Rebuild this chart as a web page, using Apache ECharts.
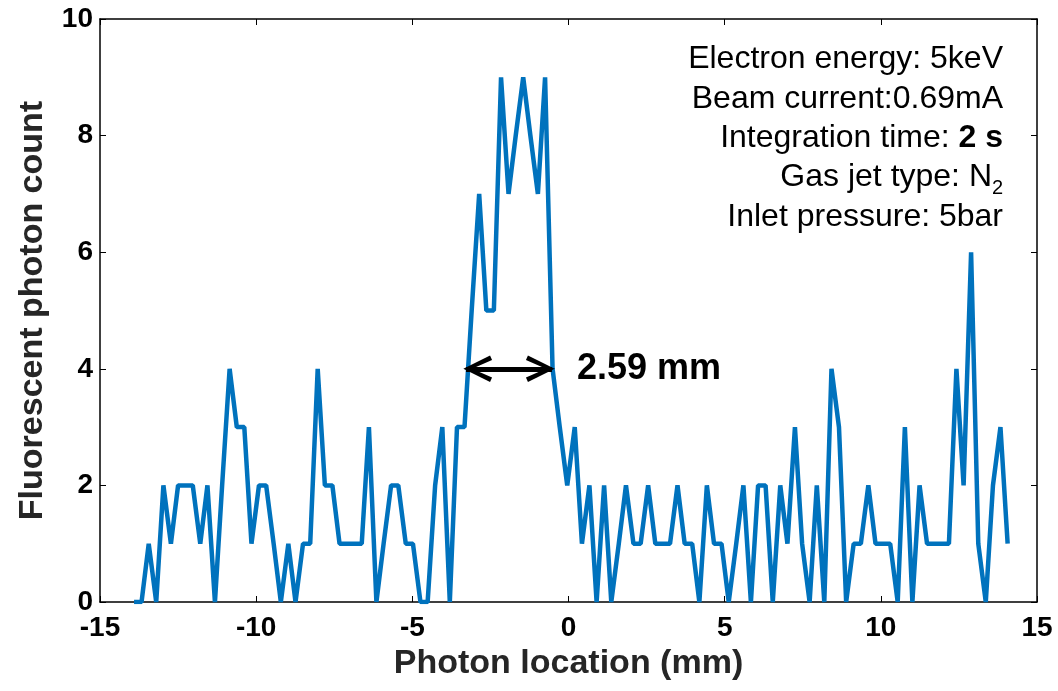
<!DOCTYPE html>
<html>
<head>
    <meta charset="utf-8">
    <title>Fluorescent photon count</title>
    <script src="https://cdn.jsdelivr.net/npm/echarts@6/dist/echarts.min.js"></script>
    <style>
        html, body { margin: 0; padding: 0; background: #fff; }
        #main { width: 1058px; height: 691px; }
    </style>
</head>
<body>
<div id="main"></div>
<script type="text/javascript">

    // photon location (mm), one entry per sample
    var locations = [
        -13.91, -13.67, -13.44, -13.20, -12.97, -12.73, -12.50, -12.26, -12.03, -11.79,
        -11.56, -11.32, -11.09, -10.85, -10.62, -10.38, -10.15, -9.91, -9.68, -9.44,
        -9.21, -8.97, -8.74, -8.50, -8.27, -8.03, -7.80, -7.56, -7.33, -7.09,
        -6.86, -6.62, -6.39, -6.15, -5.92, -5.68, -5.45, -5.21, -4.98, -4.74,
        -4.51, -4.27, -4.04, -3.80, -3.57, -3.33, -3.10, -2.86, -2.63, -2.39,
        -2.16, -1.92, -1.69, -1.45, -1.22, -0.98, -0.75, -0.51, -0.28, -0.04,
        0.20, 0.43, 0.67, 0.90, 1.14, 1.37, 1.61, 1.84, 2.08, 2.31,
        2.55, 2.78, 3.02, 3.25, 3.49, 3.72, 3.96, 4.19, 4.43, 4.66,
        4.90, 5.13, 5.37, 5.60, 5.84, 6.07, 6.31, 6.54, 6.78, 7.01,
        7.25, 7.48, 7.72, 7.95, 8.19, 8.42, 8.66, 8.89, 9.13, 9.36,
        9.60, 9.83, 10.07, 10.30, 10.54, 10.77, 11.01, 11.24, 11.48, 11.71,
        11.95, 12.18, 12.42, 12.65, 12.89, 13.12, 13.36, 13.59, 13.83, 14.06
    ];

    // fluorescent photon count at each location
    var counts = [
        0, 0, 1, 0, 2, 1, 2, 2, 2, 1,
        2, 0, 2, 4, 3, 3, 1, 2, 2, 1,
        0, 1, 0, 1, 1, 4, 2, 2, 1, 1,
        1, 1, 3, 0, 1, 2, 2, 1, 1, 0,
        0, 2, 3, 0, 3, 3, 5, 7, 5, 5,
        9, 7, 8, 9, 8, 7, 9, 4, 3, 2,
        3, 1, 2, 0, 2, 0, 1, 2, 1, 1,
        2, 1, 1, 1, 2, 1, 1, 0, 2, 1,
        1, 0, 1, 2, 0, 2, 2, 0, 2, 1,
        3, 1, 0, 2, 0, 4, 3, 0, 1, 1,
        2, 1, 1, 1, 0, 3, 0, 2, 1, 1,
        1, 1, 4, 2, 6, 1, 0, 2, 3, 1
    ];

    var xTicks = { min: -15, max: 15, interval: 5 };
    var yTicks = { min: 0, max: 10, interval: 2 };

    // FWHM arrow (mm, count) and its label
    var fwhmStart = [-3.28, 4];
    var fwhmEnd = [-0.53, 4];
    var fwhmText = '2.59 mm';

    var infoLines = [
        'Electron energy: 5keV',
        'Beam current:0.69mA',
        'Integration time: {b|2 s}',
        'Gas jet type: N',
        'Inlet pressure: 5bar'
    ];
    var infoTops = [43, 83, 122, 161, 201];

    var font = '"Liberation Sans", Arial, Helvetica, sans-serif';
    var blue = '#0072BD';

    // open chevron pointing up, apex at the centre of the bounding box
    var chevron = 'path://M13.3,23.3 L26.6,50 L22,52 L13.3,32 L4.6,52 L0,50 Z M13.25,0 L13.35,0 L13.3,0.1 Z';

    var seriesData = locations.map(function (x, i) {
        return [x, counts[i]];
    });

    var dom = document.getElementById('main');
    var myChart = echarts.init(dom, null, { renderer: 'canvas' });

    var axisLineStyle = { color: '#000', width: 1.5 };

    // info box, one right-aligned text per line
    var graphics = infoLines.map(function (t, i) {
        return {
            type: 'text',
            right: i === 3 ? 66 : 55,
            top: infoTops[i],
            style: {
                text: t,
                fontSize: 32,
                fill: '#000',
                fontFamily: font,
                rich: {
                    b: { fontSize: 32, fontWeight: 'bold', fill: '#000', fontFamily: font }
                }
            }
        };
    });
    // subscript of N2
    graphics.push({
        type: 'text',
        right: 55,
        top: 178,
        style: { text: '2', fontSize: 20, fill: '#000', fontFamily: font }
    });

    var option = {
        animation: false,
        backgroundColor: '#fff',
        textStyle: { fontFamily: font },
        grid: { left: 100, right: 21, top: 19, bottom: 89 },
        xAxis: [{
            type: 'value',
            min: xTicks.min, max: xTicks.max, interval: xTicks.interval,
            name: 'Photon location (mm)',
            nameLocation: 'middle',
            nameGap: 39,
            nameTextStyle: { fontSize: 34, fontWeight: 'bold', color: '#262626', fontFamily: font },
            axisLine: { show: true, onZero: false, lineStyle: axisLineStyle },
            axisTick: { show: true, inside: true, length: 6, lineStyle: { color: '#000' } },
            axisLabel: { fontSize: 28, fontWeight: 'bold', color: '#000', margin: 12, fontFamily: font },
            splitLine: { show: false }
        }, {
            type: 'value', position: 'top',
            min: xTicks.min, max: xTicks.max, interval: xTicks.interval,
            axisLine: { show: true, onZero: false, lineStyle: axisLineStyle },
            axisTick: { show: true, inside: true, length: 6, lineStyle: { color: '#000' } },
            axisLabel: { show: false },
            splitLine: { show: false }
        }],
        yAxis: [{
            type: 'value',
            min: yTicks.min, max: yTicks.max, interval: yTicks.interval,
            name: 'Fluorescent photon count',
            nameLocation: 'middle',
            nameGap: 50,
            nameTextStyle: { fontSize: 34, fontWeight: 'bold', color: '#262626', fontFamily: font },
            axisLine: { show: true, onZero: false, lineStyle: axisLineStyle },
            axisTick: { show: true, inside: true, length: 6, lineStyle: { color: '#000' } },
            axisLabel: { fontSize: 28, fontWeight: 'bold', color: '#000', margin: 7, fontFamily: font },
            splitLine: { show: false }
        }, {
            type: 'value', position: 'right',
            min: yTicks.min, max: yTicks.max, interval: yTicks.interval,
            axisLine: { show: true, onZero: false, lineStyle: axisLineStyle },
            axisTick: { show: true, inside: true, length: 6, lineStyle: { color: '#000' } },
            axisLabel: { show: false },
            splitLine: { show: false }
        }],
        series: [{
            type: 'line',
            data: seriesData,
            showSymbol: false,
            symbol: 'none',
            lineStyle: { color: blue, width: 4.5 },
            markLine: {
                silent: true,
                symbol: [chevron, chevron],
                symbolSize: [26.6, 52],
                lineStyle: { color: '#000', width: 5, type: 'solid' },
                label: {
                    show: true,
                    position: 'end',
                    formatter: fwhmText,
                    distance: 25,
                    fontSize: 36,
                    fontWeight: 'bold',
                    color: '#000',
                    fontFamily: font
                },
                data: [[{ coord: fwhmStart }, { coord: fwhmEnd }]]
            }
        }],
        graphic: graphics
    };

    myChart.setOption(option);

</script>
</body>
</html>
